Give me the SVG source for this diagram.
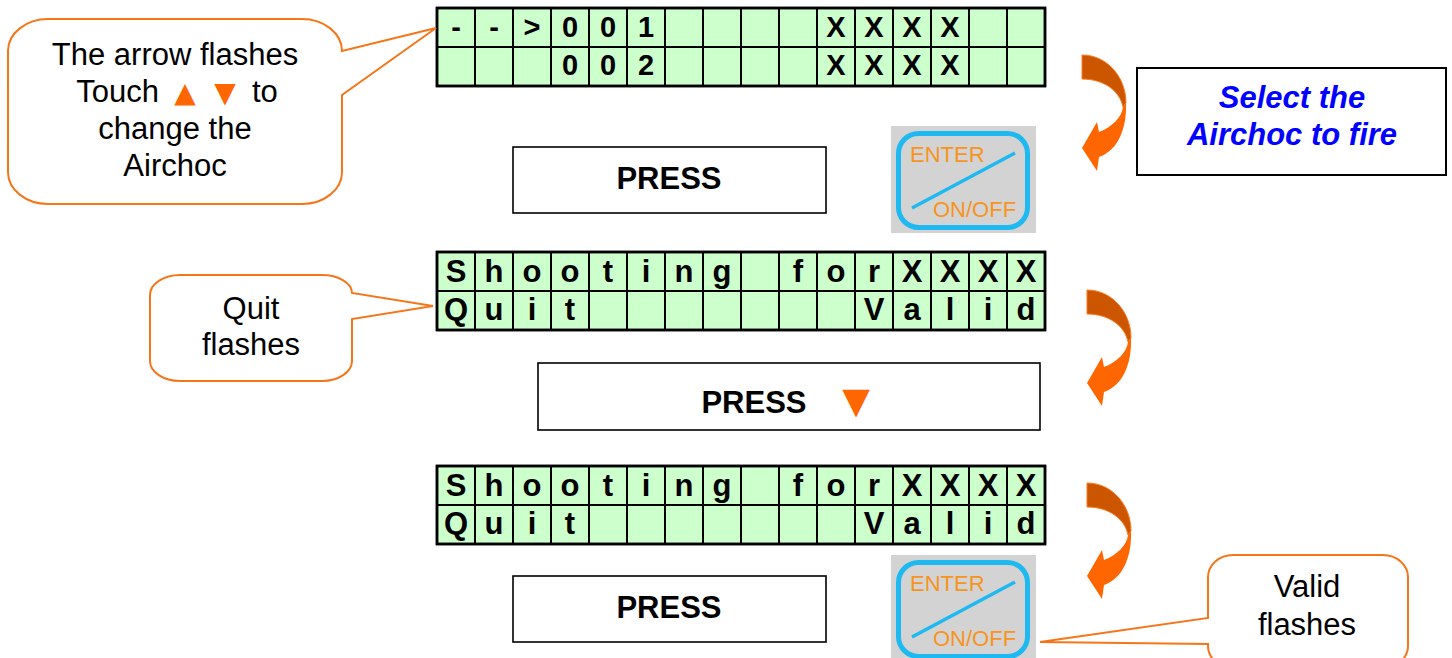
<svg xmlns="http://www.w3.org/2000/svg" width="1452" height="658" viewBox="0 0 1452 658">
<style>
.lcdbg{fill:#CCFFCC;stroke:#000;stroke-width:2.5}
.gl{stroke:#000;stroke-width:2}
.lcd1{font-family:"Liberation Sans",Arial,sans-serif;font-weight:bold;font-size:29px;text-anchor:middle;fill:#000}
.lcd2{font-family:"Liberation Sans",Arial,sans-serif;font-weight:bold;font-size:31px;text-anchor:middle;fill:#000}
.box{fill:#fff;stroke:#000;stroke-width:1.6}
.press{font-family:"Liberation Sans",Arial,sans-serif;font-weight:bold;font-size:31px;text-anchor:middle;fill:#000}
.call{fill:#fff;stroke:#F5761A;stroke-width:2}
.ct{font-family:"Liberation Sans",Arial,sans-serif;font-size:31px;text-anchor:middle;fill:#000}
.tri{font-family:"DejaVu Sans",sans-serif;fill:#FF6600;text-anchor:middle}
.bt{font-family:"Liberation Sans",Arial,sans-serif;font-size:22px;fill:#F7941D}
.dark{fill:#CC5500;stroke:#FF7A1F;stroke-width:1}
.light{fill:#FF6600}
</style>
<defs>
<g id="enterBtn">
<rect x="891" y="126" width="145" height="107" fill="#D3D3D3"/>
<rect x="898.5" y="133.5" width="129" height="94" rx="20" fill="none" stroke="#1EB9F0" stroke-width="5"/>
<line x1="912" y1="208" x2="1015" y2="153" stroke="#1EB9F0" stroke-width="3.5"/>
<text class="bt" x="910" y="162">ENTER</text>
<text class="bt" x="933" y="217">ON/OFF</text>
</g>
<g id="curl">
<path class="dark" d="M0,0 C25,0 44,22 44,48 L41,52 C38,36 22,24 0,24 Z"/>
<path class="light" d="M44,48 C45,75 35,96 17,102 L15,116 L0,93 L15,67 L17,77 C30,72 40,62 41,52 Z"/>
</g>
<g id="gridlines">
<line class="gl" x1="475" y1="0" x2="475" y2="78"/><line class="gl" x1="513" y1="0" x2="513" y2="78"/>
<line class="gl" x1="551" y1="0" x2="551" y2="78"/><line class="gl" x1="589" y1="0" x2="589" y2="78"/>
<line class="gl" x1="627" y1="0" x2="627" y2="78"/><line class="gl" x1="665" y1="0" x2="665" y2="78"/>
<line class="gl" x1="703" y1="0" x2="703" y2="78"/><line class="gl" x1="741" y1="0" x2="741" y2="78"/>
<line class="gl" x1="779" y1="0" x2="779" y2="78"/><line class="gl" x1="817" y1="0" x2="817" y2="78"/>
<line class="gl" x1="855" y1="0" x2="855" y2="78"/><line class="gl" x1="893" y1="0" x2="893" y2="78"/>
<line class="gl" x1="931" y1="0" x2="931" y2="78"/><line class="gl" x1="969" y1="0" x2="969" y2="78"/>
<line class="gl" x1="1007" y1="0" x2="1007" y2="78"/>
<line class="gl" x1="437" y1="39" x2="1045" y2="39"/>
<rect class="lcdbg" x="437" y="0" width="608" height="78" fill="none" style="fill:none"/>
</g>
</defs>

<g id="lcd1">
<rect class="lcdbg" x="437" y="8" width="608" height="78"/>
<use href="#gridlines" transform="translate(0,8)"/>
<text class="lcd1" y="37"><tspan x="456">-</tspan><tspan x="494">-</tspan><tspan x="532">&gt;</tspan><tspan x="570">0</tspan><tspan x="608">0</tspan><tspan x="646">1</tspan><tspan x="836">X</tspan><tspan x="874">X</tspan><tspan x="912">X</tspan><tspan x="950">X</tspan></text>
<text class="lcd1" y="75"><tspan x="570">0</tspan><tspan x="608">0</tspan><tspan x="646">2</tspan><tspan x="836">X</tspan><tspan x="874">X</tspan><tspan x="912">X</tspan><tspan x="950">X</tspan></text>
</g>

<g id="lcd2">
<rect class="lcdbg" x="437" y="252" width="608" height="78"/>
<use href="#gridlines" transform="translate(0,252)"/>
<text class="lcd2" y="282"><tspan x="456">S</tspan><tspan x="494">h</tspan><tspan x="532">o</tspan><tspan x="570">o</tspan><tspan x="608">t</tspan><tspan x="646">i</tspan><tspan x="684">n</tspan><tspan x="722">g</tspan><tspan x="798">f</tspan><tspan x="836">o</tspan><tspan x="874">r</tspan><tspan x="912">X</tspan><tspan x="950">X</tspan><tspan x="988">X</tspan><tspan x="1026">X</tspan></text>
<text class="lcd2" y="320"><tspan x="456">Q</tspan><tspan x="494">u</tspan><tspan x="532">i</tspan><tspan x="570">t</tspan><tspan x="874">V</tspan><tspan x="912">a</tspan><tspan x="950">l</tspan><tspan x="988">i</tspan><tspan x="1026">d</tspan></text>
</g>

<g id="lcd3">
<rect class="lcdbg" x="437" y="466" width="608" height="78"/>
<use href="#gridlines" transform="translate(0,466)"/>
<text class="lcd2" y="496"><tspan x="456">S</tspan><tspan x="494">h</tspan><tspan x="532">o</tspan><tspan x="570">o</tspan><tspan x="608">t</tspan><tspan x="646">i</tspan><tspan x="684">n</tspan><tspan x="722">g</tspan><tspan x="798">f</tspan><tspan x="836">o</tspan><tspan x="874">r</tspan><tspan x="912">X</tspan><tspan x="950">X</tspan><tspan x="988">X</tspan><tspan x="1026">X</tspan></text>
<text class="lcd2" y="534"><tspan x="456">Q</tspan><tspan x="494">u</tspan><tspan x="532">i</tspan><tspan x="570">t</tspan><tspan x="874">V</tspan><tspan x="912">a</tspan><tspan x="950">l</tspan><tspan x="988">i</tspan><tspan x="1026">d</tspan></text>
</g>

<g id="press1">
<rect class="box" x="513" y="147" width="313" height="66"/>
<text class="press" x="669" y="189">PRESS</text>
</g>

<g id="press2">
<rect class="box" x="538" y="363" width="502" height="67"/>
<text class="press" x="754" y="413">PRESS</text>
<text class="tri" x="856" y="413" font-size="36">▼</text>
</g>

<g id="press3">
<rect class="box" x="513" y="576" width="313" height="66"/>
<text class="press" x="669" y="618">PRESS</text>
</g>

<g id="enter1"><use href="#enterBtn"/></g>
<g id="enter2"><use href="#enterBtn" transform="translate(0,429)"/></g>

<g id="selectBox">
<rect x="1137" y="68" width="309" height="107" fill="#fff" stroke="#000" stroke-width="2"/>
<text x="1292" y="108" font-family="Liberation Sans, Arial, sans-serif" font-size="31" font-weight="bold" font-style="italic" fill="#0000FF" text-anchor="middle">Select the</text>
<text x="1292" y="145" font-family="Liberation Sans, Arial, sans-serif" font-size="31" font-weight="bold" font-style="italic" fill="#0000FF" text-anchor="middle">Airchoc to fire</text>
</g>

<g id="calloutArrow">
<path class="call" d="M48,19 H302 A40,32 0 0 1 342,51 L436,28 L342,95 V172 A40,32 0 0 1 302,204 H48 A40,32 0 0 1 8,172 V51 A40,32 0 0 1 48,19 Z"/>
<text class="ct" x="175" y="65">The arrow flashes</text>
<text class="ct" x="159" y="102" text-anchor="end" style="text-anchor:end">Touch</text>
<text class="tri" x="185" y="102" font-size="28">▲</text>
<text class="tri" x="225" y="102" font-size="28">▼</text>
<text class="ct" x="252" y="102" style="text-anchor:start">to</text>
<text class="ct" x="175" y="139">change the</text>
<text class="ct" x="175" y="176">Airchoc</text>
</g>

<g id="calloutQuit">
<path class="call" d="M180,275 H322 A30,18 0 0 1 352,293 L433,306 L352,319 V361 A30,20 0 0 1 322,381 H180 A30,20 0 0 1 150,361 V295 A30,20 0 0 1 180,275 Z"/>
<text class="ct" x="251" y="319">Quit</text>
<text class="ct" x="251" y="355">flashes</text>
</g>

<g id="calloutValid">
<path class="call" d="M1233,555 H1383 A25,22 0 0 1 1408,577 V646 A25,22 0 0 1 1383,668 H1233 A25,22 0 0 1 1208,646 V644 L1040,642 L1208,618 V577 A25,22 0 0 1 1233,555 Z"/>
<text class="ct" x="1307" y="597">Valid</text>
<text class="ct" x="1307" y="635">flashes</text>
</g>

<g id="connectors">
<use href="#curl" transform="translate(1082,55)"/>
<use href="#curl" transform="translate(1087,290)"/>
<use href="#curl" transform="translate(1087,483)"/>
</g>
</svg>
